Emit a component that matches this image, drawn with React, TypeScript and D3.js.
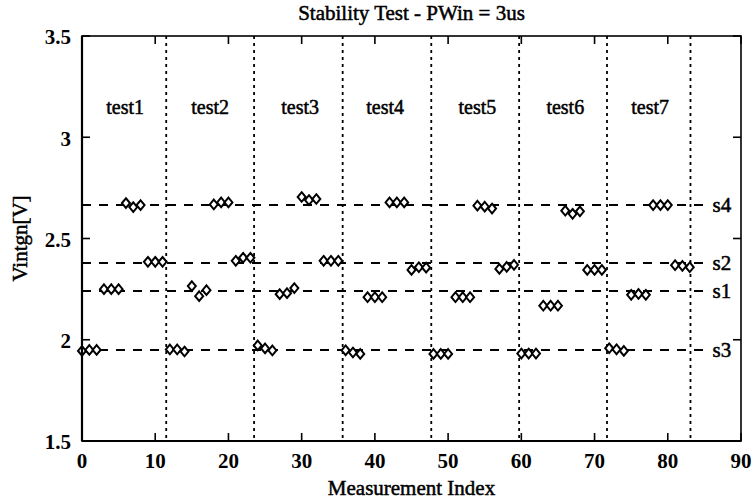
import React from "react";
import * as d3 from "d3";

// ---- data ----
const testNames = ["test1", "test2", "test3", "test4", "test5", "test6", "test7"];
const testLabelX = [5.9, 17.5, 29.8, 41.4, 54, 66, 77.6];
const testBoundaries = [11.5, 23.5, 35.6, 47.7, 59.7, 71.7, 83.1];

// Measured Vintgn, measurement index 0..83 (per test: s3 x3, s1 x3, s4 x3, s2 x3)
const vintgn = [
  1.945, 1.95, 1.95, 2.25, 2.25, 2.25, 2.675, 2.655, 2.665, 2.385, 2.385, 2.385,
  1.952, 1.952, 1.942, 2.265, 2.215, 2.245, 2.668, 2.678, 2.678, 2.39, 2.405, 2.405,
  1.972, 1.957, 1.947, 2.225, 2.23, 2.255, 2.705, 2.69, 2.695, 2.39, 2.39, 2.39,
  1.948, 1.937, 1.93, 2.21, 2.21, 2.21, 2.678, 2.678, 2.678, 2.345, 2.358, 2.356,
  1.93, 1.93, 1.93, 2.21, 2.21, 2.21, 2.662, 2.657, 2.648, 2.35, 2.36, 2.37,
  1.932, 1.932, 1.932, 2.168, 2.168, 2.168, 2.637, 2.622, 2.634, 2.345, 2.345, 2.345,
  1.958, 1.953, 1.945, 2.222, 2.226, 2.222, 2.665, 2.665, 2.665, 2.368, 2.365, 2.358,
];

const refNames = ["s4", "s2", "s1", "s3"];
const refLevels = [2.665, 2.379, 2.241, 1.949];

const xTicks = [0, 10, 20, 30, 40, 50, 60, 70, 80, 90];
const yTicks = [1.5, 2, 2.5, 3, 3.5];

const FONT = "'Liberation Serif', 'Times New Roman', 'DejaVu Serif', serif";

export default function App() {
  const W = 753, H = 502;
  const left = 82, right = 741, top = 36, bottom = 441;
  const x = d3.scaleLinear().domain([0, 90]).range([left, right]);
  const y = d3.scaleLinear().domain([1.5, 3.5]).range([bottom, top]);
  const tickLen = 8;
  const refEnd = 85.3;
  const heavy = { stroke: "#000", strokeWidth: 0.5 };

  const diamond = (cx: number, cy: number) => {
    const w = 4, h = 4.8;
    return `M${cx},${cy - h}L${cx + w},${cy}L${cx},${cy + h}L${cx - w},${cy}Z`;
  };

  return (
    <svg width={W} height={H}
      style={{ position: "absolute", left: 0, top: 0, background: "#fff", fontFamily: FONT }}>
      <rect x={0} y={0} width={W} height={H} fill="#fff" />
      {/* title */}
      <text x={(left + right) / 2} y={20} textAnchor="middle" fontSize={21} {...heavy}>
        Stability Test - PWin = 3us
      </text>

      {/* vertical dotted test boundaries */}
      {testBoundaries.map((b, i) => (
        <line key={"b" + i} x1={x(b)} x2={x(b)} y1={top} y2={bottom}
          stroke="#000" strokeWidth={1.8} strokeDasharray="3,4" />
      ))}

      {/* reference dashed lines */}
      {refLevels.map((v, i) => (
        <line key={"r" + i} x1={x(0)} x2={x(refEnd)} y1={y(v)} y2={y(v)}
          stroke="#000" strokeWidth={2} strokeDasharray="9,8" />
      ))}
      {refLevels.map((v, i) => (
        <text key={"rl" + i} x={x(refEnd) + 6} y={y(v)} dy="0.35em" fontSize={21} {...heavy}>
          {refNames[i]}
        </text>
      ))}

      {/* test labels */}
      {testNames.map((t, i) => (
        <text key={"t" + i} x={x(testLabelX[i])} y={y(3.15)} dy="0.35em" textAnchor="middle"
          fontSize={20} {...heavy}>{t}</text>
      ))}

      {/* markers */}
      {vintgn.map((v, i) => (
        <path key={"m" + i} d={diamond(x(i), y(v))} fill="#fff" stroke="#000" strokeWidth={2} />
      ))}

      {/* frame */}
      <rect x={left} y={top} width={right - left} height={bottom - top} fill="none" stroke="#000" strokeWidth={1.6} />
      <line x1={left} x2={left} y1={top} y2={bottom} stroke="#000" strokeWidth={2.2} />
      <line x1={left} x2={right} y1={bottom} y2={bottom} stroke="#000" strokeWidth={2.2} />

      {/* ticks */}
      {xTicks.map((t, i) => (
        <g key={"xt" + i}>
          <line x1={x(t)} x2={x(t)} y1={bottom} y2={bottom - tickLen} stroke="#000" strokeWidth={1.6} />
          <line x1={x(t)} x2={x(t)} y1={top} y2={top + tickLen} stroke="#000" strokeWidth={1.6} />
          <text x={x(t)} y={bottom + 27} textAnchor="middle" fontSize={21} fontWeight="bold">{t}</text>
        </g>
      ))}
      {yTicks.map((t, i) => (
        <g key={"yt" + i}>
          <line x1={left} x2={left + tickLen} y1={y(t)} y2={y(t)} stroke="#000" strokeWidth={1.6} />
          <line x1={right} x2={right - tickLen} y1={y(t)} y2={y(t)} stroke="#000" strokeWidth={1.6} />
          <text x={left - 11} y={y(t)} dy="0.4em" textAnchor="end" fontSize={21} fontWeight="bold">{t}</text>
        </g>
      ))}

      {/* axis labels */}
      <text x={(left + right) / 2} y={495} textAnchor="middle" fontSize={21} {...heavy}>
        Measurement Index
      </text>
      <text transform={`translate(27,${(top + bottom) / 2}) rotate(-90)`} textAnchor="middle"
        fontSize={21} {...heavy}>Vintgn[V]</text>
    </svg>
  );
}
